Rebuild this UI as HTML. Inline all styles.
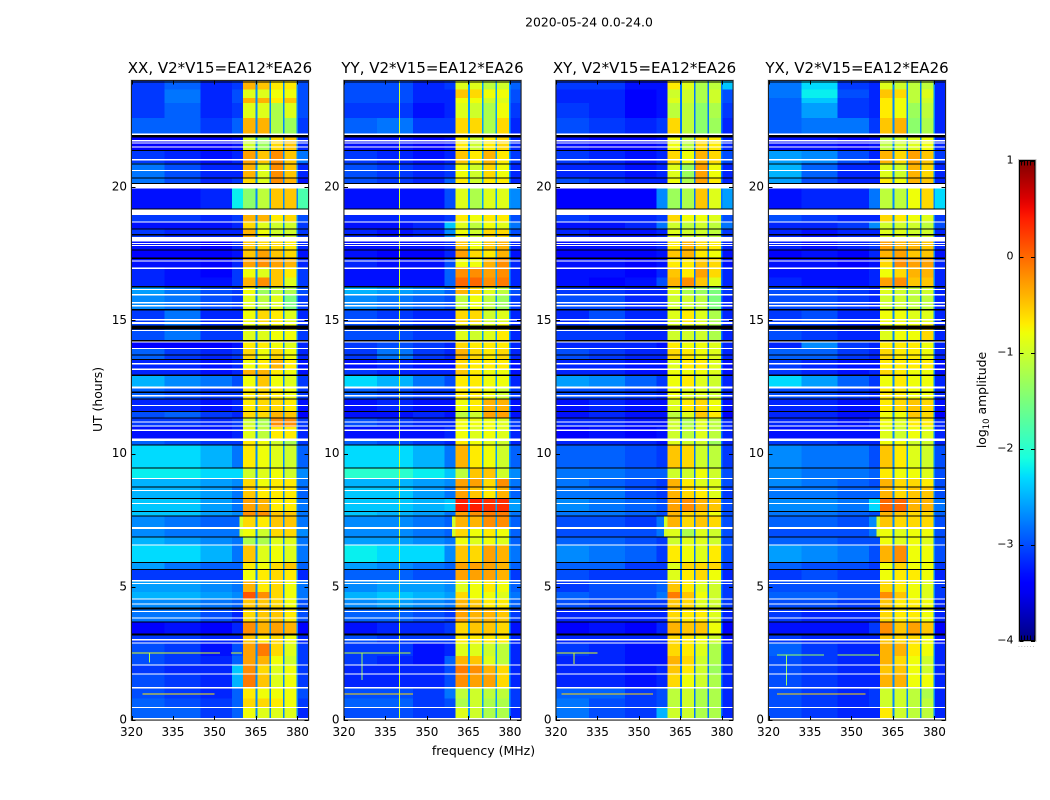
<!DOCTYPE html>
<html>
<head>
<meta charset="utf-8">
<title>2020-05-24 0.0-24.0</title>
<style>
html,body{margin:0;padding:0;background:#fff;width:1050px;height:800px;overflow:hidden}
svg{display:block}
text{font-family:"DejaVu Sans","Liberation Sans",sans-serif;fill:#000}
</style>
</head>
<body>
<svg id="figure" xmlns="http://www.w3.org/2000/svg" width="1050" height="800" viewBox="0 0 1050 800">
<rect x="0" y="0" width="1050" height="800" fill="#fff"/>
<text x="589" y="26.5" font-size="12.4" text-anchor="middle">2020-05-24 0.0-24.0</text>
<text x="483.5" y="755" font-size="12.5" text-anchor="middle">frequency (MHz)</text>
<text x="0" y="0" font-size="12.4" text-anchor="middle" transform="translate(102,399.5) rotate(-90)">UT (hours)</text>
<text x="0" y="0" font-size="12.4" text-anchor="middle" transform="translate(986,400) rotate(-90)">log<tspan font-size="8.5" dy="3">10</tspan><tspan dy="-3"> amplitude</tspan></text>
<g id="panels"></g>
<g id="colorbar"></g>
</svg>
<script>
// ---- axis data ----
const panelTitles = ["XX, V2*V15=EA12*EA26", "YY, V2*V15=EA12*EA26", "XY, V2*V15=EA12*EA26", "YX, V2*V15=EA12*EA26"];
const xTicks = [320, 335, 350, 365, 380];
const yTicks = [0, 5, 10, 15, 20];
const colorbarTicks = [1, 0, -1, -2, -3, -4];
const colorbarMinorOffsets = [0.2, 0.4, 0.6, 0.8, 1.0];

// ---- heatmap bins: UT band edges (hours) and frequency column edges (MHz) ----
const utEdges = [24,23.66,23.35,23.16,22.6,22.0,21.4,20.9,20.35,19.95,19.15,18.7,18.4,18.0,17.65,17.3,17.0,16.6,16.25,15.95,15.4,14.85,14.25,13.95,13.55,13.2,12.95,12.5,12.05,11.6,11.33,11.0,10.5,10.3,9.45,9.05,8.75,8.33,7.85,7.65,7.2,6.87,6.55,5.9,5.63,5.2,4.8,4.55,4.2,3.68,3.2,2.9,2.4,2.05,1.7,1.2,0.8,0.45,0.08];
const freqEdges = [320,332,345,356.3,360.4,365.4,370.4,375.4,380,384];

// ---- log10 amplitude per UT band (rows) and frequency column ----
const ampXX = [
[-3.1,-2.9,-3.2,-3.1,-0.4,-0.5,-0.7,-0.7,-3.0],
[-3.1,-2.8,-3.2,-3.0,-0.9,-0.9,-0.8,-0.8,-3.0],
[-3.1,-2.8,-3.2,-3.0,-0.4,-0.4,-0.7,-0.5,-3.0],
[-3.1,-2.9,-3.2,-3.1,-0.9,-0.9,-1.2,-0.9,-3.0],
[-2.9,-2.9,-3.1,-2.9,-0.4,-0.4,-1.2,-1.3,-3.1],
[-3.4,-3.4,-3.4,-3.3,-1.0,-1.3,-0.6,-0.5,-3.2],
[-3.1,-3.2,-3.3,-3.2,-0.3,-0.5,-0.2,-0.5,-2.8],
[-2.8,-3.0,-3.2,-3.2,-0.4,-0.9,-0.2,-0.5,-3.2],
[-2.8,-3.0,-3.2,-3.1,-0.6,-0.9,-0.2,-0.4,-3.3],
[-3.3,-3.3,-3.2,-2.2,-1.4,-1.1,-0.5,-0.5,-1.8],
[-3.1,-3.1,-3.2,-3.1,-0.4,-0.4,-0.7,-0.6,-3.0],
[-3.3,-3.3,-3.3,-3.2,-0.6,-0.9,-1.0,-1.0,-3.1],
[-3.1,-3.2,-3.2,-3.2,-0.4,-0.8,-1.0,-1.0,-3.1],
[-3.3,-3.3,-3.4,-3.2,-0.5,-0.6,-0.6,-0.7,-3.2],
[-3.4,-3.4,-3.4,-3.3,-0.5,-0.3,-0.5,-0.6,-3.3],
[-3.3,-3.3,-3.4,-3.2,-0.3,-0.2,-0.3,-0.4,-3.2],
[-3.2,-3.3,-3.4,-3.1,-0.8,-0.9,-0.5,-0.7,-3.1],
[-3.2,-3.3,-3.3,-3.1,-0.4,-0.2,-0.5,-0.9,-3.1],
[-2.6,-2.8,-3.0,-3.1,-0.8,-1.3,-1.1,-1.2,-3.0],
[-2.7,-2.8,-3.0,-3.1,-0.9,-1.1,-0.9,-1.5,-3.1],
[-3.1,-2.8,-3.2,-3.2,-0.8,-0.6,-0.7,-0.9,-3.2],
[-3.0,-2.8,-3.1,-3.1,-0.9,-0.9,-0.8,-0.8,-3.1],
[-3.4,-3.4,-3.4,-3.3,-0.7,-0.7,-0.8,-0.9,-3.2],
[-2.9,-3.1,-3.2,-3.1,-0.6,-0.8,-0.6,-0.8,-3.2],
[-3.2,-3.2,-3.3,-3.2,-0.8,-0.7,-0.4,-0.7,-3.3],
[-3.2,-3.2,-3.3,-3.2,-0.4,-0.4,-0.7,-0.8,-3.3],
[-2.5,-2.7,-2.8,-3.0,-0.8,-0.5,-0.8,-0.9,-3.1],
[-2.9,-3.0,-3.1,-3.1,-0.7,-0.6,-0.7,-0.8,-3.1],
[-3.2,-3.2,-3.3,-3.2,-0.7,-0.6,-0.6,-0.7,-3.3],
[-3.0,-2.9,-3.1,-3.2,-0.6,-0.6,-0.4,-0.5,-3.4],
[-3.1,-3.1,-3.2,-3.1,-1.0,-1.2,-0.2,-0.2,-3.1],
[-3.3,-3.3,-3.3,-3.2,-0.9,-1.1,-0.7,-0.7,-3.2],
[-2.9,-3.0,-3.1,-3.1,-0.7,-0.8,-1.0,-1.2,-3.1],
[-2.3,-2.3,-2.5,-2.8,-0.7,-0.8,-0.9,-1.0,-2.9],
[-2.2,-2.2,-2.3,-2.3,-1.0,-0.9,-0.8,-1.0,-2.7],
[-2.5,-2.5,-2.6,-2.7,-0.6,-0.8,-0.7,-0.7,-2.8],
[-2.5,-2.5,-2.6,-2.8,-0.5,-0.7,-0.7,-0.7,-2.9],
[-2.4,-2.4,-2.6,-2.8,-0.3,-0.4,-0.7,-0.7,-2.8],
[-2.4,-2.4,-2.6,-2.7,-0.2,-0.2,-0.5,-0.5,-2.8],
[-2.7,-2.8,-2.9,-2.9,-0.6,-0.7,-0.5,-0.5,-2.8],
[-2.7,-2.8,-2.8,-2.8,-0.8,-1.0,-0.6,-0.6,-2.7],
[-2.5,-2.6,-2.7,-2.8,-1.2,-1.2,-0.9,-0.9,-2.8],
[-2.3,-2.3,-2.5,-2.8,-0.5,-0.9,-0.8,-0.9,-2.8],
[-2.6,-2.8,-2.9,-2.9,-0.7,-0.8,-0.6,-0.5,-2.9],
[-3.1,-3.1,-3.1,-3.1,-0.8,-0.7,-0.6,-0.7,-3.2],
[-2.6,-2.6,-2.7,-2.8,-0.4,-0.7,-0.6,-0.8,-2.8],
[-2.5,-2.5,-2.6,-2.7,0.1,-0.2,-0.6,-0.8,-2.8],
[-2.7,-2.7,-2.8,-2.9,-0.5,-0.5,-0.6,-0.8,-3.0],
[-2.8,-2.8,-3.0,-3.2,-0.6,-0.5,-0.5,-0.7,-3.0],
[-3.4,-3.3,-3.4,-3.2,-0.2,-0.4,-0.3,-0.4,-3.4],
[-3.1,-3.1,-3.2,-3.2,-0.5,-0.7,-0.6,-0.8,-3.2],
[-3.0,-3.1,-3.3,-3.0,-0.3,-0.1,-0.6,-0.9,-3.1],
[-3.0,-3.1,-3.2,-2.9,-0.3,-0.4,-0.8,-1.0,-3.1],
[-3.1,-3.2,-3.2,-2.4,-0.2,-0.6,-0.9,-0.8,-3.1],
[-3.0,-3.1,-3.2,-2.5,-0.1,-0.5,-0.9,-0.8,-3.1],
[-3.0,-3.1,-3.2,-2.9,-0.7,-0.8,-0.8,-0.8,-3.0],
[-2.9,-3.0,-3.1,-2.9,-0.6,-0.6,-0.7,-0.8,-3.1],
[-2.9,-2.9,-3.1,-2.9,-0.8,-0.9,-0.9,-0.9,-3.2]
];
const ampYY = [
[-3.0,-3.0,-3.2,-3.1,-0.9,-0.9,-1.1,-1.0,-2.9],
[-3.0,-3.0,-3.2,-3.2,-0.5,-0.6,-0.8,-0.8,-3.0],
[-3.0,-3.0,-3.2,-3.2,-0.8,-0.8,-1.0,-0.9,-3.0],
[-3.1,-3.1,-3.3,-3.2,-0.9,-1.0,-1.2,-0.8,-3.1],
[-2.9,-2.8,-3.1,-3.1,-0.6,-0.6,-1.2,-0.6,-3.2],
[-3.3,-3.3,-3.4,-3.3,-0.7,-1.0,-0.7,-0.6,-3.2],
[-3.1,-3.2,-3.3,-3.2,-0.5,-0.7,-0.4,-0.7,-3.1],
[-3.0,-3.1,-3.2,-3.1,-0.8,-1.0,-0.6,-0.8,-3.2],
[-3.0,-3.1,-3.2,-2.9,-0.7,-1.0,-0.7,-0.7,-3.2],
[-3.3,-3.3,-3.3,-3.0,-0.9,-1.2,-0.9,-0.9,-2.7],
[-3.2,-3.2,-3.2,-3.1,-0.7,-0.8,-0.7,-0.7,-3.0],
[-3.3,-3.3,-3.2,-2.4,-0.9,-1.1,-0.8,-0.9,-2.8],
[-3.2,-3.3,-3.2,-2.7,-0.8,-1.0,-0.6,-0.6,-3.0],
[-3.3,-3.3,-3.3,-3.2,-0.5,-0.8,-0.5,-0.4,-3.2],
[-3.3,-3.4,-3.4,-3.2,-0.3,-0.6,-0.7,-0.4,-3.3],
[-3.2,-3.3,-3.3,-3.0,-0.8,-0.8,-0.4,-0.2,-3.2],
[-3.3,-3.3,-3.3,-2.9,-0.2,-0.2,-0.3,-0.2,-3.2],
[-3.3,-3.3,-3.3,-2.9,0.0,0.0,-0.2,-0.1,-3.2],
[-2.5,-2.6,-2.7,-2.9,-0.4,-0.6,-0.9,-1.1,-3.0],
[-2.7,-2.8,-2.9,-3.0,-1.1,-0.8,-1.1,-1.3,-3.1],
[-3.0,-3.1,-3.2,-3.2,-0.6,-0.6,-1.0,-0.9,-3.2],
[-3.0,-3.0,-3.1,-3.1,-0.9,-1.0,-0.9,-0.7,-3.2],
[-3.1,-3.0,-3.1,-3.2,-0.6,-0.7,-0.7,-0.7,-3.2],
[-3.1,-2.8,-3.1,-3.2,-0.4,-0.6,-0.7,-0.6,-3.2],
[-3.3,-3.2,-3.3,-3.3,-0.6,-0.7,-0.7,-0.7,-3.3],
[-3.1,-3.2,-3.2,-3.2,-0.5,-0.7,-0.8,-0.8,-3.3],
[-2.3,-2.5,-2.8,-3.0,-0.7,-0.7,-0.8,-0.8,-3.2],
[-2.9,-3.0,-3.1,-3.1,-0.7,-0.7,-0.8,-1.0,-3.1],
[-3.3,-3.2,-3.3,-3.3,-0.8,-0.7,-0.4,-0.4,-3.3],
[-3.3,-3.3,-3.2,-3.3,-1.1,-1.0,-0.3,-0.3,-3.3],
[-3.0,-3.1,-3.2,-3.2,-0.8,-0.8,-0.8,-0.9,-3.1],
[-3.3,-3.3,-3.3,-3.2,-0.8,-0.9,-0.8,-0.9,-3.2],
[-2.9,-3.0,-3.1,-3.2,-0.7,-0.8,-0.9,-1.0,-3.2],
[-2.3,-2.3,-2.5,-2.8,-0.4,-0.7,-0.8,-1.0,-2.9],
[-2.0,-2.0,-2.2,-2.4,-1.1,-0.5,-0.5,-1.0,-2.7],
[-2.5,-2.5,-2.6,-2.7,-0.3,-0.3,-0.6,-0.2,-2.8],
[-2.4,-2.4,-2.6,-2.8,-0.3,-0.5,-0.7,-0.4,-2.9],
[-2.4,-2.4,-2.5,-2.4,0.4,0.4,0.3,0.3,-2.6],
[-2.4,-2.5,-2.6,-2.8,-0.3,-0.2,-0.1,-0.1,-2.8],
[-2.7,-2.7,-2.8,-2.9,-0.4,-0.4,-0.2,-0.2,-2.9],
[-2.7,-2.7,-2.8,-2.9,-0.6,-0.8,-0.7,-0.8,-2.9],
[-2.6,-2.6,-2.7,-2.8,-0.8,-0.9,-0.8,-0.9,-2.9],
[-2.2,-2.3,-2.3,-2.7,-0.5,-0.6,-0.3,-0.4,-2.8],
[-2.6,-2.7,-2.8,-2.9,-0.3,-0.3,-0.3,-0.4,-2.9],
[-2.9,-2.9,-3.0,-3.0,-0.3,-0.3,-0.3,-0.4,-3.1],
[-2.7,-2.6,-2.6,-2.7,-0.9,-0.8,-0.7,-0.8,-2.9],
[-2.5,-2.4,-2.5,-2.6,-0.6,-0.8,-0.8,-0.9,-2.8],
[-2.7,-2.6,-2.7,-2.8,-0.4,-0.5,-0.7,-0.7,-2.9],
[-2.9,-2.9,-3.0,-3.1,-0.3,-0.4,-0.4,-0.5,-3.1],
[-3.3,-3.2,-3.2,-3.1,-0.6,-0.5,-0.5,-0.6,-3.3],
[-3.0,-3.1,-3.1,-3.1,-0.7,-0.7,-0.7,-0.7,-3.2],
[-3.1,-3.1,-3.3,-3.2,-0.9,-0.9,-1.0,-1.1,-3.2],
[-3.1,-3.2,-3.3,-2.9,-0.4,-0.5,-0.9,-1.1,-3.2],
[-3.2,-3.2,-3.2,-3.0,-0.1,-0.2,-0.4,-0.6,-3.2],
[-3.2,-3.2,-3.2,-3.0,-0.2,-0.3,-0.3,-0.6,-3.2],
[-3.0,-3.0,-3.1,-2.8,-1.1,-1.0,-1.1,-1.1,-3.1],
[-2.9,-2.9,-3.1,-3.0,-1.2,-1.0,-1.2,-1.2,-3.1],
[-3.0,-3.0,-3.1,-3.1,-0.9,-1.0,-1.2,-1.2,-3.2]
];
const ampXY = [
[-3.1,-3.1,-3.3,-3.3,-0.7,-0.9,-1.2,-1.1,-2.4],
[-3.2,-3.2,-3.4,-3.3,-1.0,-1.0,-1.2,-1.0,-3.0],
[-3.2,-3.2,-3.4,-3.3,-0.9,-1.0,-1.2,-1.0,-3.0],
[-3.1,-3.2,-3.4,-3.3,-1.1,-1.1,-1.4,-1.2,-3.1],
[-3.0,-3.1,-3.2,-3.1,-0.6,-1.1,-1.4,-1.3,-3.2],
[-3.3,-3.4,-3.4,-3.3,-0.8,-1.1,-0.6,-0.7,-3.2],
[-3.1,-3.2,-3.3,-3.2,-0.6,-0.8,-0.4,-0.6,-3.0],
[-3.2,-3.2,-3.3,-3.2,-0.9,-1.3,-0.3,-0.8,-3.2],
[-3.0,-3.1,-3.2,-3.2,-0.8,-1.2,-0.3,-0.7,-3.2],
[-3.4,-3.4,-3.4,-2.7,-1.3,-1.2,-0.5,-0.9,-2.6],
[-3.1,-3.2,-3.2,-3.1,-0.6,-0.8,-0.8,-0.9,-3.0],
[-3.3,-3.3,-3.2,-2.8,-1.0,-1.1,-1.0,-1.1,-2.8],
[-3.2,-3.3,-3.3,-3.2,-0.9,-1.0,-1.0,-1.1,-3.1],
[-3.3,-3.3,-3.3,-3.2,-0.7,-0.4,-0.6,-0.7,-3.2],
[-3.4,-3.4,-3.4,-3.3,-0.5,-0.4,-0.7,-0.8,-3.3],
[-3.3,-3.3,-3.4,-3.3,-0.7,-0.7,-0.5,-0.6,-3.3],
[-3.3,-3.3,-3.4,-3.2,-0.5,-0.7,-0.3,-0.6,-3.2],
[-3.3,-3.4,-3.3,-3.0,-0.4,-0.2,-0.5,-0.9,-3.2],
[-3.1,-3.1,-3.2,-3.2,-0.9,-1.2,-1.3,-1.5,-3.1],
[-3.0,-3.0,-3.2,-3.2,-1.0,-1.0,-1.1,-1.5,-3.2],
[-3.2,-3.0,-3.2,-3.2,-0.9,-0.7,-0.9,-1.2,-3.2],
[-3.1,-3.1,-3.2,-3.2,-1.0,-1.0,-1.0,-1.2,-3.2],
[-3.2,-3.2,-3.2,-3.3,-0.7,-0.8,-0.8,-0.9,-3.2],
[-3.0,-3.1,-3.2,-3.2,-0.6,-0.7,-0.8,-0.9,-3.2],
[-3.2,-3.2,-3.3,-3.3,-0.9,-0.7,-0.7,-0.9,-3.3],
[-3.2,-3.2,-3.3,-3.3,-0.8,-0.8,-0.8,-0.9,-3.3],
[-2.6,-2.7,-2.9,-3.1,-0.8,-0.7,-0.9,-1.0,-3.2],
[-3.0,-3.0,-3.1,-3.2,-0.8,-0.9,-0.9,-1.0,-3.2],
[-3.3,-3.2,-3.3,-3.3,-0.9,-0.7,-0.6,-0.8,-3.3],
[-3.3,-3.2,-3.3,-3.3,-1.1,-0.9,-0.5,-0.7,-3.4],
[-3.2,-3.2,-3.3,-3.3,-1.0,-1.2,-0.9,-1.1,-3.2],
[-3.4,-3.3,-3.4,-3.3,-1.0,-1.1,-0.9,-1.1,-3.2],
[-3.2,-3.2,-3.2,-3.3,-0.9,-1.0,-1.0,-1.3,-3.2],
[-2.9,-2.9,-3.0,-3.1,-0.5,-0.6,-1.0,-1.1,-3.1],
[-2.8,-2.8,-2.9,-2.9,-1.0,-1.0,-0.8,-1.0,-3.0],
[-2.8,-2.9,-3.0,-3.1,-0.4,-0.7,-0.9,-0.9,-3.0],
[-2.8,-2.8,-3.0,-3.1,-0.4,-0.6,-0.7,-0.9,-3.1],
[-2.7,-2.8,-2.9,-3.0,-0.3,-0.2,-0.4,-0.5,-3.0],
[-2.8,-2.8,-2.9,-3.0,-0.4,-0.6,-0.6,-0.8,-3.0],
[-3.0,-3.0,-3.1,-2.8,-0.4,-0.6,-0.5,-0.6,-3.0],
[-3.0,-3.0,-3.0,-2.8,-0.9,-1.2,-0.9,-1.0,-3.0],
[-2.9,-2.9,-3.0,-3.1,-1.0,-0.9,-0.9,-1.0,-3.0],
[-2.7,-2.8,-2.9,-3.1,-0.7,-0.8,-0.9,-0.7,-3.0],
[-2.9,-2.9,-3.1,-3.1,-0.9,-0.6,-0.6,-0.6,-3.1],
[-3.0,-3.1,-3.1,-3.1,-0.9,-0.7,-0.6,-0.8,-3.2],
[-3.1,-3.0,-3.0,-2.9,-0.5,-0.7,-0.9,-1.0,-3.1],
[-2.9,-3.0,-3.0,-2.8,-0.1,-0.5,-0.8,-1.0,-3.1],
[-3.0,-3.1,-3.1,-3.1,-0.5,-0.6,-0.9,-1.0,-3.1],
[-3.2,-3.2,-3.2,-3.2,-0.6,-0.7,-0.7,-0.9,-3.2],
[-3.4,-3.3,-3.4,-3.2,-0.4,-0.5,-0.5,-0.8,-3.4],
[-3.2,-3.2,-3.2,-3.2,-0.6,-0.7,-0.8,-1.0,-3.3],
[-3.1,-3.2,-3.3,-3.3,-0.6,-0.7,-0.9,-1.2,-3.2],
[-3.2,-3.2,-3.3,-3.3,-0.4,-0.6,-1.0,-1.2,-3.2],
[-3.2,-3.2,-3.3,-3.2,-0.5,-0.7,-1.0,-1.3,-3.2],
[-3.2,-3.2,-3.3,-3.2,-0.6,-0.8,-1.0,-1.2,-3.2],
[-2.9,-2.9,-3.1,-3.0,-1.1,-1.0,-1.2,-1.2,-3.2],
[-2.8,-3.0,-3.1,-3.0,-1.1,-1.0,-1.2,-1.2,-3.2],
[-2.8,-3.0,-3.1,-2.5,-1.0,-1.0,-1.2,-1.2,-3.2]
];
const ampYX = [
[-2.8,-2.3,-3.1,-3.2,-0.9,-1.0,-1.1,-1.1,-3.2],
[-2.8,-2.2,-3.0,-3.2,-0.5,-0.6,-1.1,-0.9,-3.2],
[-2.9,-2.4,-3.1,-3.2,-0.7,-0.8,-1.1,-1.0,-3.2],
[-2.9,-2.6,-3.1,-3.2,-0.7,-0.8,-1.3,-1.1,-3.2],
[-2.9,-2.8,-2.8,-3.1,-0.5,-0.4,-1.4,-1.2,-3.2],
[-3.3,-3.3,-3.4,-3.3,-1.1,-1.0,-0.9,-0.8,-3.2],
[-2.6,-2.7,-3.0,-3.2,-0.4,-0.6,-0.3,-0.5,-3.1],
[-2.5,-2.9,-3.2,-3.2,-0.9,-1.0,-0.4,-0.6,-3.2],
[-2.6,-3.0,-3.2,-3.2,-0.7,-0.8,-0.4,-0.5,-3.2],
[-3.3,-3.2,-3.2,-2.8,-1.1,-1.1,-0.8,-0.6,-2.3],
[-3.0,-3.1,-3.2,-3.2,-0.6,-0.7,-0.8,-0.9,-3.1],
[-3.2,-3.2,-3.1,-2.7,-1.0,-1.0,-1.0,-1.1,-3.0],
[-3.2,-3.3,-3.2,-3.2,-0.9,-0.9,-1.0,-1.0,-3.2],
[-3.2,-3.3,-3.2,-3.1,-0.3,-0.4,-0.4,-0.5,-3.2],
[-3.4,-3.3,-3.4,-3.2,-0.4,-0.3,-0.5,-0.5,-3.3],
[-3.3,-3.3,-3.4,-3.3,-0.6,-0.2,-0.3,-0.3,-3.2],
[-3.3,-3.3,-3.3,-3.2,-0.8,-0.6,-0.4,-0.4,-3.2],
[-3.2,-3.3,-3.3,-3.2,-0.3,-0.2,-0.5,-0.5,-3.2],
[-3.0,-3.0,-3.1,-3.2,-0.9,-1.0,-1.1,-1.0,-3.2],
[-3.0,-3.0,-3.1,-3.2,-1.0,-1.0,-1.1,-1.1,-3.2],
[-3.1,-3.0,-3.2,-3.2,-0.8,-0.8,-0.9,-0.9,-3.2],
[-3.0,-3.1,-3.2,-3.2,-0.9,-0.8,-0.8,-0.6,-3.2],
[-3.2,-2.7,-3.1,-3.2,-0.7,-0.7,-0.7,-0.8,-3.2],
[-2.9,-2.9,-3.1,-3.2,-0.6,-0.7,-0.7,-0.8,-3.2],
[-3.1,-3.2,-3.3,-3.3,-0.7,-0.7,-0.7,-0.7,-3.3],
[-3.1,-3.2,-3.3,-3.2,-0.6,-0.7,-0.8,-0.8,-3.3],
[-2.3,-2.6,-2.9,-3.1,-0.8,-0.7,-0.8,-0.8,-3.2],
[-3.0,-3.0,-3.1,-3.2,-0.7,-0.7,-0.8,-0.8,-3.2],
[-3.2,-3.2,-3.3,-3.3,-0.7,-0.6,-0.5,-0.6,-3.3],
[-3.2,-3.2,-3.3,-3.3,-0.8,-0.8,-0.5,-0.6,-3.4],
[-3.2,-3.2,-3.3,-3.2,-0.8,-0.9,-0.7,-0.7,-3.2],
[-3.3,-3.3,-3.3,-3.3,-0.9,-1.0,-0.8,-0.9,-3.2],
[-3.1,-3.1,-3.2,-3.2,-0.8,-0.8,-1.0,-1.0,-3.2],
[-2.7,-2.8,-2.8,-3.0,-0.5,-0.7,-0.9,-1.0,-3.0],
[-2.7,-2.8,-2.8,-2.9,-0.7,-0.8,-0.8,-0.9,-3.0],
[-2.7,-2.8,-2.9,-3.0,-0.4,-0.6,-0.6,-0.7,-3.0],
[-2.8,-2.8,-2.9,-2.9,-0.4,-0.6,-0.5,-0.5,-3.0],
[-2.7,-2.7,-2.8,-2.3,0.0,0.0,-0.4,-0.4,-2.8],
[-2.8,-2.8,-2.9,-3.0,-0.4,-0.5,-0.6,-0.6,-2.9],
[-2.9,-2.9,-3.0,-2.7,-0.5,-0.6,-0.6,-0.6,-3.0],
[-3.0,-3.0,-3.0,-2.8,-0.8,-0.9,-0.8,-0.8,-3.0],
[-2.9,-2.9,-3.0,-3.0,-0.8,-0.9,-0.8,-0.9,-3.0],
[-2.6,-2.7,-2.8,-3.0,-0.4,-0.2,-0.8,-0.8,-3.0],
[-2.9,-3.0,-3.0,-3.1,-0.8,-0.6,-0.8,-0.8,-3.1],
[-3.1,-3.0,-3.1,-3.1,-0.8,-0.7,-0.7,-0.8,-3.2],
[-3.0,-3.0,-3.0,-3.0,-0.6,-0.7,-0.8,-0.9,-3.1],
[-2.9,-2.9,-3.0,-3.0,-0.2,-0.5,-0.8,-0.9,-3.1],
[-3.0,-3.0,-3.1,-3.1,-0.5,-0.7,-0.7,-0.8,-3.2],
[-3.1,-3.2,-3.2,-3.2,-0.6,-0.7,-0.7,-0.8,-3.2],
[-3.3,-3.3,-3.3,-3.1,-0.2,-0.5,-0.3,-0.5,-3.4],
[-3.1,-3.2,-3.2,-3.2,-0.5,-0.6,-0.6,-0.8,-3.3],
[-2.9,-3.1,-3.2,-3.2,-0.4,-0.4,-0.7,-0.8,-3.2],
[-3.0,-3.1,-3.2,-3.2,-0.4,-0.6,-0.8,-1.0,-3.2],
[-3.0,-3.1,-3.2,-3.2,-0.5,-0.5,-0.8,-1.0,-3.2],
[-3.0,-3.1,-3.2,-3.2,-0.4,-0.4,-0.8,-0.8,-3.2],
[-3.0,-3.1,-3.2,-3.1,-1.0,-1.0,-1.1,-1.2,-3.2],
[-3.0,-3.1,-3.2,-3.1,-1.0,-1.0,-1.1,-1.1,-3.2],
[-3.0,-3.1,-3.2,-3.2,-0.7,-1.0,-1.1,-1.1,-3.2]
];

// ---- blue notches between sub-bands (MHz) and their log10 amplitude per panel ----
const notchRanges = [[364.9,365.5],[369.9,370.5],[374.8,375.4],[379.7,380.2]];
const notchAmps = [-2.7, -2.6, -2.8, -2.7];

// ---- widened band edge around 7 UT: [ut top, ut bottom, freq start, freq end, log10 amplitude] ----
const edgeExtensions = [[7.65,6.87,359,360.4,-1.0]];

// ---- narrow-band and impulsive interference per panel ----
const timeRfiXX = [[2.54,320,352,-0.9],[2.54,356,360,-0.9],[1.0,324,350,-0.7]];
const timeRfiYY = [[2.54,320,344,-1.1],[1.0,320,345,-0.6]];
const timeRfiXY = [[2.54,320,335,-0.9],[1.0,322,355,-0.6]];
const timeRfiYX = [[2.45,323,340,-1.3],[2.45,345,360,-1.2],[1.0,323,355,-0.6]];
const freqRfiXX = [[326.4,2.15,2.54,-1.2]];
const freqRfiYY = [[339.9,0.08,24,-1.0],[326.4,1.5,2.54,-1.3]];
const freqRfiXY = [[326.4,2.1,2.54,-1.0]];
const freqRfiYX = [[326.3,1.3,2.45,-1.3]];

// ---- flagged time ranges (hours), shared by all panels ----
const whiteFlags = [[22.02,21.95],[21.76,21.72],[21.68,21.64],[21.53,21.49],[21.06,21.0],[20.64,20.6],[20.13,19.95],[19.15,18.95],[18.71,18.68],[18.13,17.96],[17.91,17.86],[17.82,17.8],[17.25,17.21],[16.99,16.92],[16.17,16.14],[15.98,15.94],[15.68,15.64],[15.57,15.51],[15.05,15.0],[14.93,14.86],[14.64,14.6],[14.21,14.16],[13.96,13.92],[13.39,13.35],[13.19,13.14],[12.51,12.45],[12.2,12.15],[11.83,11.79],[11.21,11.18],[11.06,11.03],[10.91,10.85],[10.56,10.48],[9.09,9.05],[8.63,8.59],[8.14,8.1],[7.24,7.16],[6.59,6.55],[5.26,5.2],[5.15,5.11],[4.56,4.53],[4.38,4.34],[4.1,4.06],[3.85,3.8],[3.04,2.98],[2.91,2.88],[2.09,2.05],[1.75,1.71],[1.23,1.19],[0.49,0.45],[0.08,0]];
const blackFlags = [[23.97,23.93],[21.95,21.87],[21.39,21.35],[20.89,20.86],[20.36,20.33],[20.16,20.13],[19.19,19.15],[18.45,18.41],[18.24,18.19],[17.65,17.63],[17.35,17.31],[16.28,16.23],[15.42,15.36],[14.81,14.65],[14.26,14.21],[13.71,13.68],[13.55,13.51],[12.96,12.91],[12.33,12.27],[12.06,12.03],[11.59,11.55],[11.36,11.33],[10.34,10.3],[9.48,9.44],[8.76,8.73],[8.33,8.29],[7.84,7.8],[7.68,7.64],[6.89,6.85],[5.93,5.89],[5.66,5.63],[4.23,4.15],[3.7,3.65],[3.25,3.18]];

const panelAmps = [ampXX, ampYY, ampXY, ampYX];
const panelTimeRfi = [timeRfiXX, timeRfiYY, timeRfiXY, timeRfiYX];
const panelFreqRfi = [freqRfiXX, freqRfiYY, freqRfiXY, freqRfiYX];

// ---- layout (not data) ----
const SVGNS = "http://www.w3.org/2000/svg";
const panelLefts = [131.5, 344, 556, 768.5];
const panelWidth = 177, plotTop = 80.5, plotBottom = 720;
const freqMin = 320, freqMax = 384, utMin = 0, utMax = 24;
const cbarLeft = 1019.5, cbarRight = 1035, cbarTop = 160.5, cbarBottom = 640.5, ampMin = -4, ampMax = 1;

function xScale(left, f) { return left + (f - freqMin) / (freqMax - freqMin) * panelWidth; }
function yScale(ut) { return plotBottom - (ut - utMin) / (utMax - utMin) * (plotBottom - plotTop); }
function cbarY(a) { return cbarBottom - (a - ampMin) / (ampMax - ampMin) * (cbarBottom - cbarTop); }

function lerp(pts, t) {
  for (let i = 1; i < pts.length; i++) {
    if (t <= pts[i][0]) {
      const p = pts[i - 1], q = pts[i];
      return p[1] + (q[1] - p[1]) * (t - p[0]) / (q[0] - p[0]);
    }
  }
  return pts[pts.length - 1][1];
}
const jetR = [[0,0],[0.35,0],[0.66,1],[0.89,1],[1,0.5]];
const jetG = [[0,0],[0.125,0],[0.375,1],[0.64,1],[0.91,0],[1,0]];
const jetB = [[0,0.5],[0.11,1],[0.34,1],[0.65,0],[1,0]];
function jet(a) {
  const t = Math.max(0, Math.min(1, (a - ampMin) / (ampMax - ampMin)));
  return "rgb(" + Math.round(lerp(jetR, t) * 255) + "," + Math.round(lerp(jetG, t) * 255) + "," + Math.round(lerp(jetB, t) * 255) + ")";
}

function mk(parent, tag, attrs) {
  const el = document.createElementNS(SVGNS, tag);
  for (const k in attrs) el.setAttribute(k, attrs[k]);
  parent.appendChild(el);
  return el;
}
function fillRect(parent, x0, y0, x1, y1, fill) {
  return mk(parent, "rect", { x: x0, y: y0, width: Math.max(x1 - x0, 1), height: Math.max(y1 - y0, 1), fill: fill, "shape-rendering": "crispEdges" });
}

const panelsRoot = document.getElementById("panels");
panelTitles.forEach(function (title, p) {
  const left = panelLefts[p], right = left + panelWidth;
  const g = mk(panelsRoot, "g", {});
  
  

  const heat = mk(g, "g", {});
  
  
  panelAmps[p].forEach(function (row, r) {
    row.forEach(function (amp, c) {
      const cell = fillRect(heat, xScale(left, freqEdges[c]), yScale(utEdges[r]), xScale(left, freqEdges[c + 1]), yScale(utEdges[r + 1]), jet(amp));
      
      
    });
  });

  edgeExtensions.forEach(function (e) {
    const ext = fillRect(g, xScale(left, e[2]), yScale(e[0]), xScale(left, e[3]), yScale(e[1]), jet(e[4]));
    
    
  });

  notchRanges.forEach(function (n) {
    const notch = fillRect(g, xScale(left, n[0]), yScale(utEdges[0]), xScale(left, n[1]), yScale(utEdges[utEdges.length - 1]), jet(notchAmps[p]));
    
    
  });

  panelFreqRfi[p].forEach(function (v) {
    const line = fillRect(g, xScale(left, v[0]), yScale(v[2]), xScale(left, v[0]) + 1, yScale(v[1]), jet(v[3]));
    
    
  });
  panelTimeRfi[p].forEach(function (v) {
    const line = fillRect(g, xScale(left, v[1]), yScale(v[0]), xScale(left, v[2]), yScale(v[0]) + 1, jet(v[3]));
    
    
  });

  whiteFlags.forEach(function (f) {
    const flag = fillRect(g, left, yScale(f[0]), right, yScale(f[1]), "#fff");
    
    
  });
  blackFlags.forEach(function (f) {
    const flag = fillRect(g, left, yScale(f[0]), right, yScale(f[1]), "#000");
    
    
  });

  const halo = mk(g, "rect", { x: left - 0.5, y: plotTop - 0.5, width: panelWidth + 1, height: plotBottom - plotTop + 1, fill: "none", stroke: "#c4c4c4", "stroke-width": 1 });
  
  
  const frame = mk(g, "rect", { x: left, y: plotTop, width: panelWidth, height: plotBottom - plotTop, fill: "none", stroke: "#222", "stroke-width": 1 });
  
  

  xTicks.forEach(function (t) {
    const x = Math.round(xScale(left, t)) + 0.5;
    const bottomTick = mk(g, "line", { x1: x, x2: x, y1: plotBottom, y2: plotBottom - 4, stroke: "#000", "stroke-width": 1 });
    
    
    const topTick = mk(g, "line", { x1: x, x2: x, y1: plotTop, y2: plotTop + 4, stroke: "#000", "stroke-width": 1 });
    
    
    const label = mk(g, "text", { x: xScale(left, t), y: 736, "font-size": 12, "text-anchor": "middle" });
    label.textContent = String(t);
    
    
  });
  yTicks.forEach(function (t) {
    const y = Math.round(yScale(t)) + 0.5;
    const leftTick = mk(g, "line", { x1: left, x2: left + 4, y1: y, y2: y, stroke: "#000", "stroke-width": 1 });
    
    
    const rightTick = mk(g, "line", { x1: right, x2: right - 4, y1: y, y2: y, stroke: "#000", "stroke-width": 1 });
    
    
    const label = mk(g, "text", { x: left - 4.5, y: yScale(t) + 3.5, "font-size": 12, "text-anchor": "end" });
    label.textContent = String(t);
    
    
  });

  const titleEl = mk(g, "text", { x: left + panelWidth / 2, y: 73, "font-size": 15, "text-anchor": "middle" });
  titleEl.textContent = title;
  
  
});

// ---- colorbar ----
const cb = document.getElementById("colorbar");
const defs = mk(cb, "defs", {});
const grad = mk(defs, "linearGradient", { id: "jetGrad", x1: 0, y1: 1, x2: 0, y2: 0 });
for (let i = 0; i <= 50; i++) {
  mk(grad, "stop", { offset: i / 50, "stop-color": jet(ampMin + (ampMax - ampMin) * i / 50) });
}
const cbFill = mk(cb, "rect", { x: cbarLeft, y: cbarTop, width: cbarRight - cbarLeft, height: cbarBottom - cbarTop, fill: "url(#jetGrad)" });


const cbHalo = mk(cb, "rect", { x: cbarLeft - 1, y: cbarTop - 1, width: cbarRight - cbarLeft + 2, height: cbarBottom - cbarTop + 2, fill: "none", stroke: "#c4c4c4", "stroke-width": 1 });


const cbFrame = mk(cb, "rect", { x: cbarLeft, y: cbarTop, width: cbarRight - cbarLeft, height: cbarBottom - cbarTop, fill: "none", stroke: "#000", "stroke-width": 1 });


colorbarTicks.forEach(function (t) {
  const y = Math.round(cbarY(t)) + 0.5;
  const tl = mk(cb, "line", { x1: cbarLeft, x2: cbarLeft + 4, y1: y, y2: y, stroke: "#000", "stroke-width": 1 });
  
  
  const tr = mk(cb, "line", { x1: cbarRight, x2: cbarRight - 4, y1: y, y2: y, stroke: "#000", "stroke-width": 1 });
  
  
  const label = mk(cb, "text", { x: 1013.5, y: cbarY(t) + 3, "font-size": 11, "text-anchor": "end" });
  label.textContent = t < 0 ? "\u2212" + Math.abs(t) : String(t);
  
  
});
colorbarMinorOffsets.forEach(function (o) {
  const x = Math.round(cbarLeft + (cbarRight - cbarLeft) * o - 1.5) + 0.5;
  const top = mk(cb, "line", { x1: x, x2: x, y1: cbarTop, y2: cbarTop + 5, stroke: "#000", "stroke-width": 1 });
  
  
  const bottom = mk(cb, "line", { x1: x, x2: x, y1: cbarBottom, y2: cbarBottom - 5, stroke: "#000", "stroke-width": 1 });
  
  
});
const dots = mk(cb, "text", { x: 1018, y: 647, "font-size": 6, "letter-spacing": "1", style: "fill:#888" });
dots.textContent = "......";


</script>
</body>
</html>
